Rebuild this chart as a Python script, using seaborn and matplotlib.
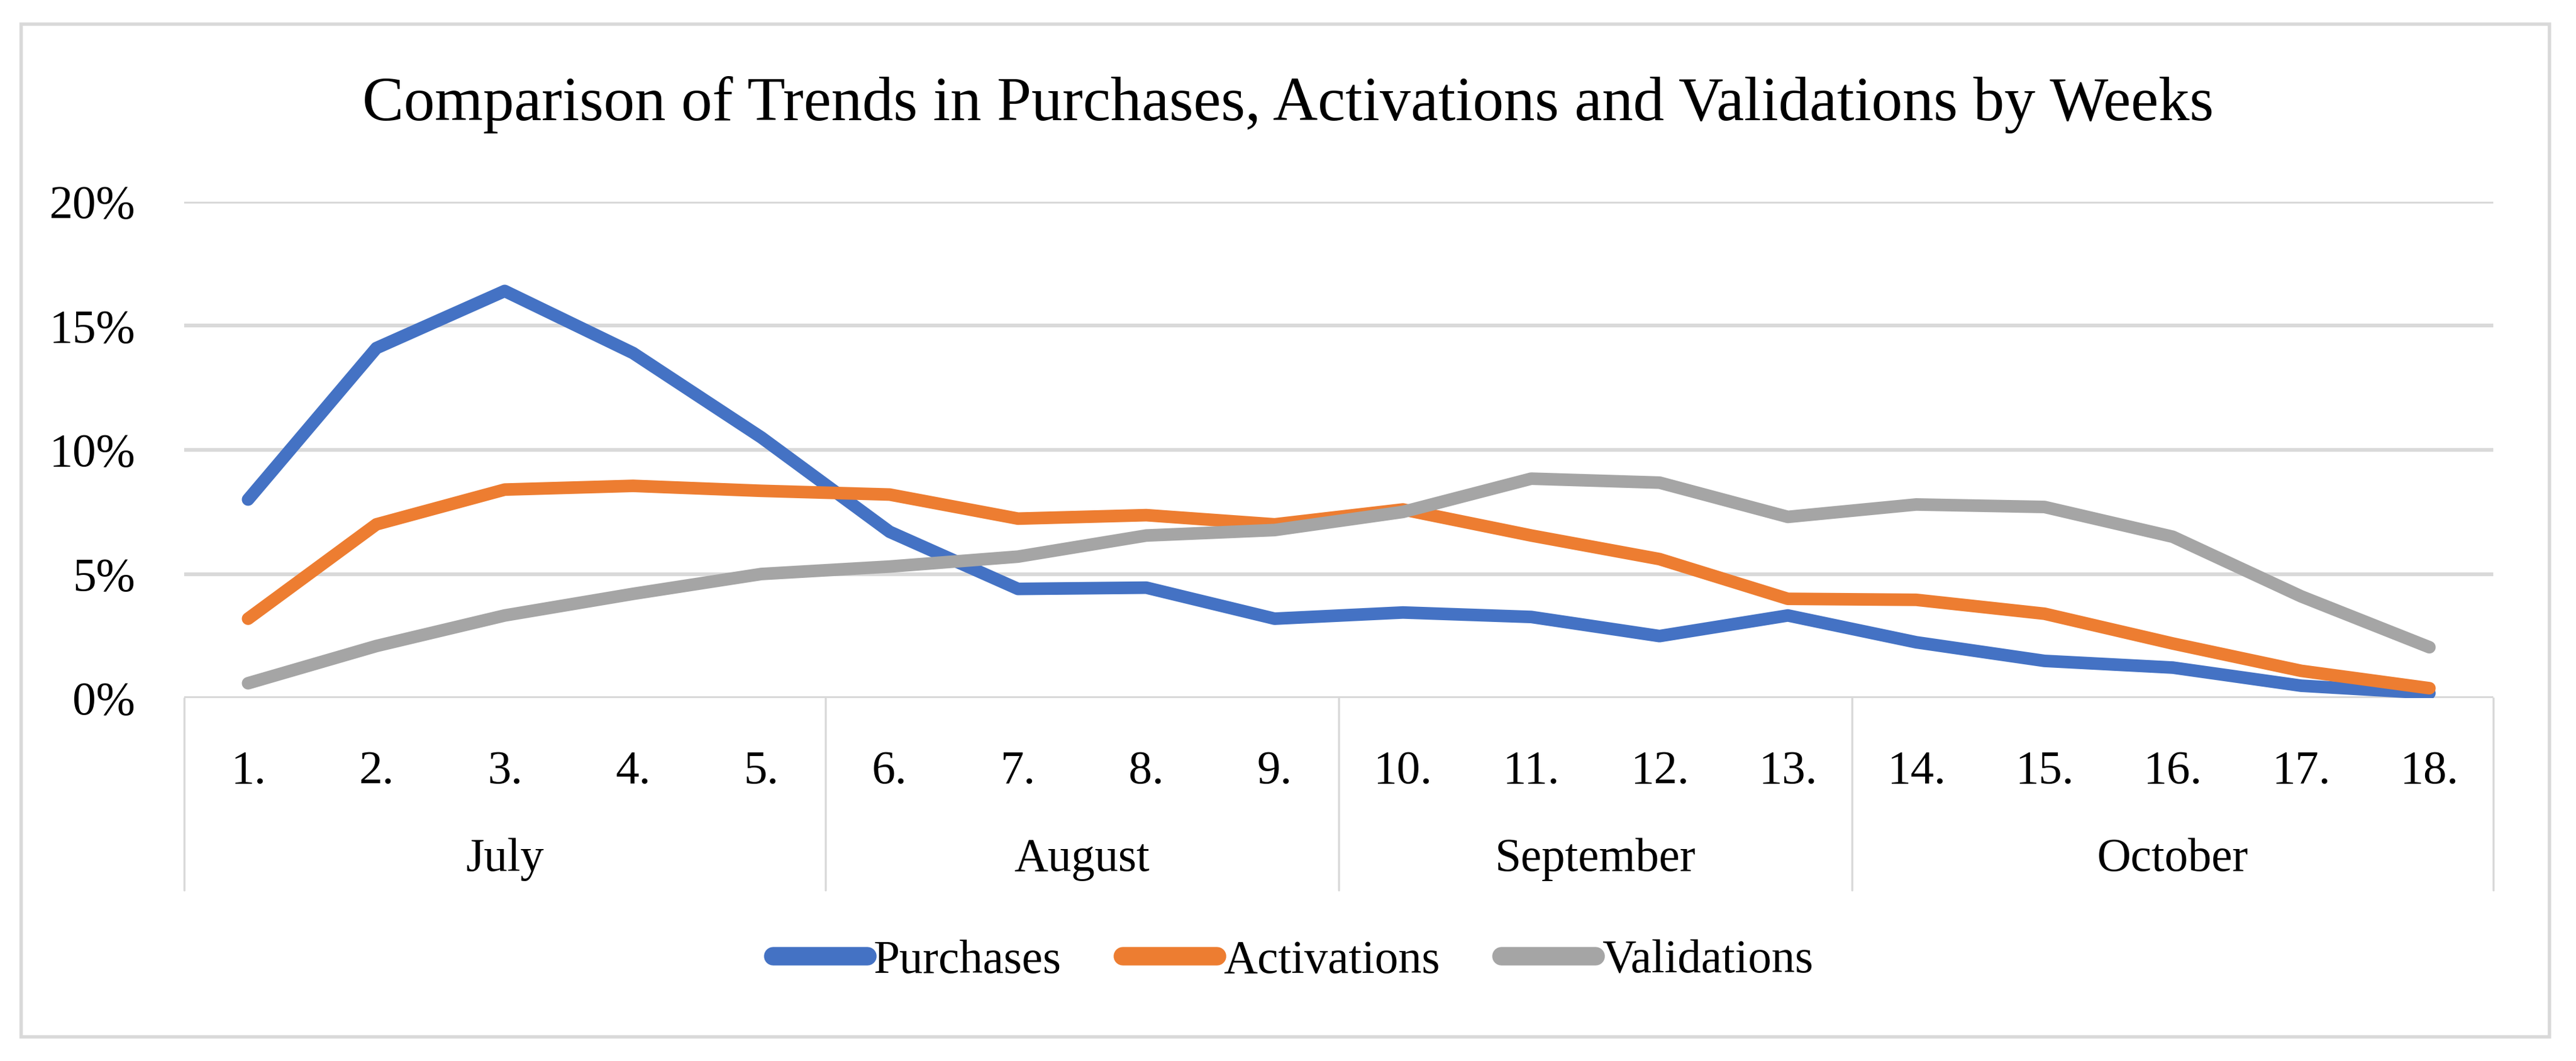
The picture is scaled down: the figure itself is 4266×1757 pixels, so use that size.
import matplotlib
matplotlib.use("Agg")
import matplotlib.pyplot as plt
import matplotlib.transforms as mtransforms
from matplotlib.patches import Rectangle
import seaborn as sns
import pandas as pd

# Dados (percentuais por semana)
semanas = ["1.", "2.", "3.", "4.", "5.", "6.", "7.", "8.", "9.", "10.",
           "11.", "12.", "13.", "14.", "15.", "16.", "17.", "18."]
meses = ["July", "August", "September", "October"]
semanas_por_mes = [5, 4, 4, 5]
purchases = [8.0, 14.1, 16.4, 13.9, 10.5, 6.7, 4.4, 4.45, 3.2, 3.45,
             3.27, 2.5, 3.33, 2.25, 1.5, 1.23, 0.5, 0.2]
activations = [3.2, 7.0, 8.4, 8.55, 8.35, 8.2, 7.23, 7.37, 7.0, 7.6,
               6.55, 5.6, 4.0, 3.96, 3.4, 2.2, 1.1, 0.4]
validations = [0.6, 2.1, 3.33, 4.2, 5.0, 5.3, 5.7, 6.55, 6.77, 7.5,
               8.84, 8.68, 7.3, 7.8, 7.7, 6.5, 4.1, 2.05]
series = ["Purchases", "Activations", "Validations"]
cores = ["#4472C4", "#ED7D31", "#A5A5A5"]

df = pd.DataFrame({
    "idx": list(range(len(semanas))) * 3,
    "valor": [v / 100 for v in purchases + activations + validations],
    "serie": [s for s in series for _ in semanas],
})

sns.set_theme(style="white")
fonte = ["Liberation Serif", "DejaVu Serif"]
plt.rcParams["font.family"] = fonte
plt.rcParams["text.color"] = "black"
plt.rcParams["xtick.color"] = "black"
plt.rcParams["ytick.color"] = "black"
tam = 56

fig = plt.figure(figsize=(42.66, 17.57), dpi=100)
ax = fig.add_axes([0.0714, 0.342, 0.8966, 0.468])

sns.lineplot(data=df, x="idx", y="valor", hue="serie", hue_order=series,
             palette=cores, linewidth=15, ax=ax, legend=True)
for ln in ax.lines:
    ln.set_solid_capstyle("round")
    ln.set_solid_joinstyle("round")

ax.set_xlim(-0.5, len(semanas) - 0.5)
ax.set_ylim(0, 0.2)
ax.set_yticks([0, 0.05, 0.10, 0.15, 0.20])
ax.set_yticklabels(["0%", "5%", "10%", "15%", "20%"], fontsize=tam, family=fonte)
ax.yaxis.grid(True, color="#D9D9D9", linewidth=4.5)
ax.set_axisbelow(True)
for s in ax.spines.values():
    s.set_visible(False)
ax.tick_params(axis="y", length=0, pad=58)
ax.set_xticks(range(len(semanas)))
ax.set_xticklabels(semanas, fontsize=tam, family=fonte)
ax.tick_params(axis="x", length=0, pad=62)
ax.set_xlabel("")
ax.set_ylabel("")

# Separadores e nomes dos meses abaixo do eixo
trans = mtransforms.blended_transform_factory(ax.transData, ax.transAxes)
limites = [-0.5]
for n in semanas_por_mes:
    limites.append(limites[-1] + n)
for b in limites:
    ax.plot([b, b], [0, -0.387], transform=trans, color="#D9D9D9",
            linewidth=2.5, clip_on=False)
for i, mes in enumerate(meses):
    centro = (limites[i] + limites[i + 1]) / 2
    ax.text(centro, -0.325, mes, transform=trans, ha="center", va="center",
            fontsize=tam, family=fonte, color="black")

fig.text(0.5, 0.901,
         "Comparison of Trends in Purchases, Activations and Validations by Weeks",
         ha="center", va="center", fontsize=74, family=fonte, color="black")

leg = ax.legend(loc="center", bbox_to_anchor=(0.502, 0.094),
                bbox_transform=fig.transFigure, ncol=3, frameon=False,
                prop={"family": fonte, "size": tam}, handlelength=2.0,
                handletextpad=0.15, columnspacing=1.3, labelcolor="black")
for h in leg.get_lines():
    h.set_linewidth(22)
    h.set_solid_capstyle("round")

# Moldura externa
fig.patches.append(Rectangle((35 / 4266, 40 / 1757), 4187 / 4266, 1677 / 1757,
                             transform=fig.transFigure, fill=False,
                             edgecolor="#D9D9D9", linewidth=4))

fig.savefig("out.png", dpi=100)
